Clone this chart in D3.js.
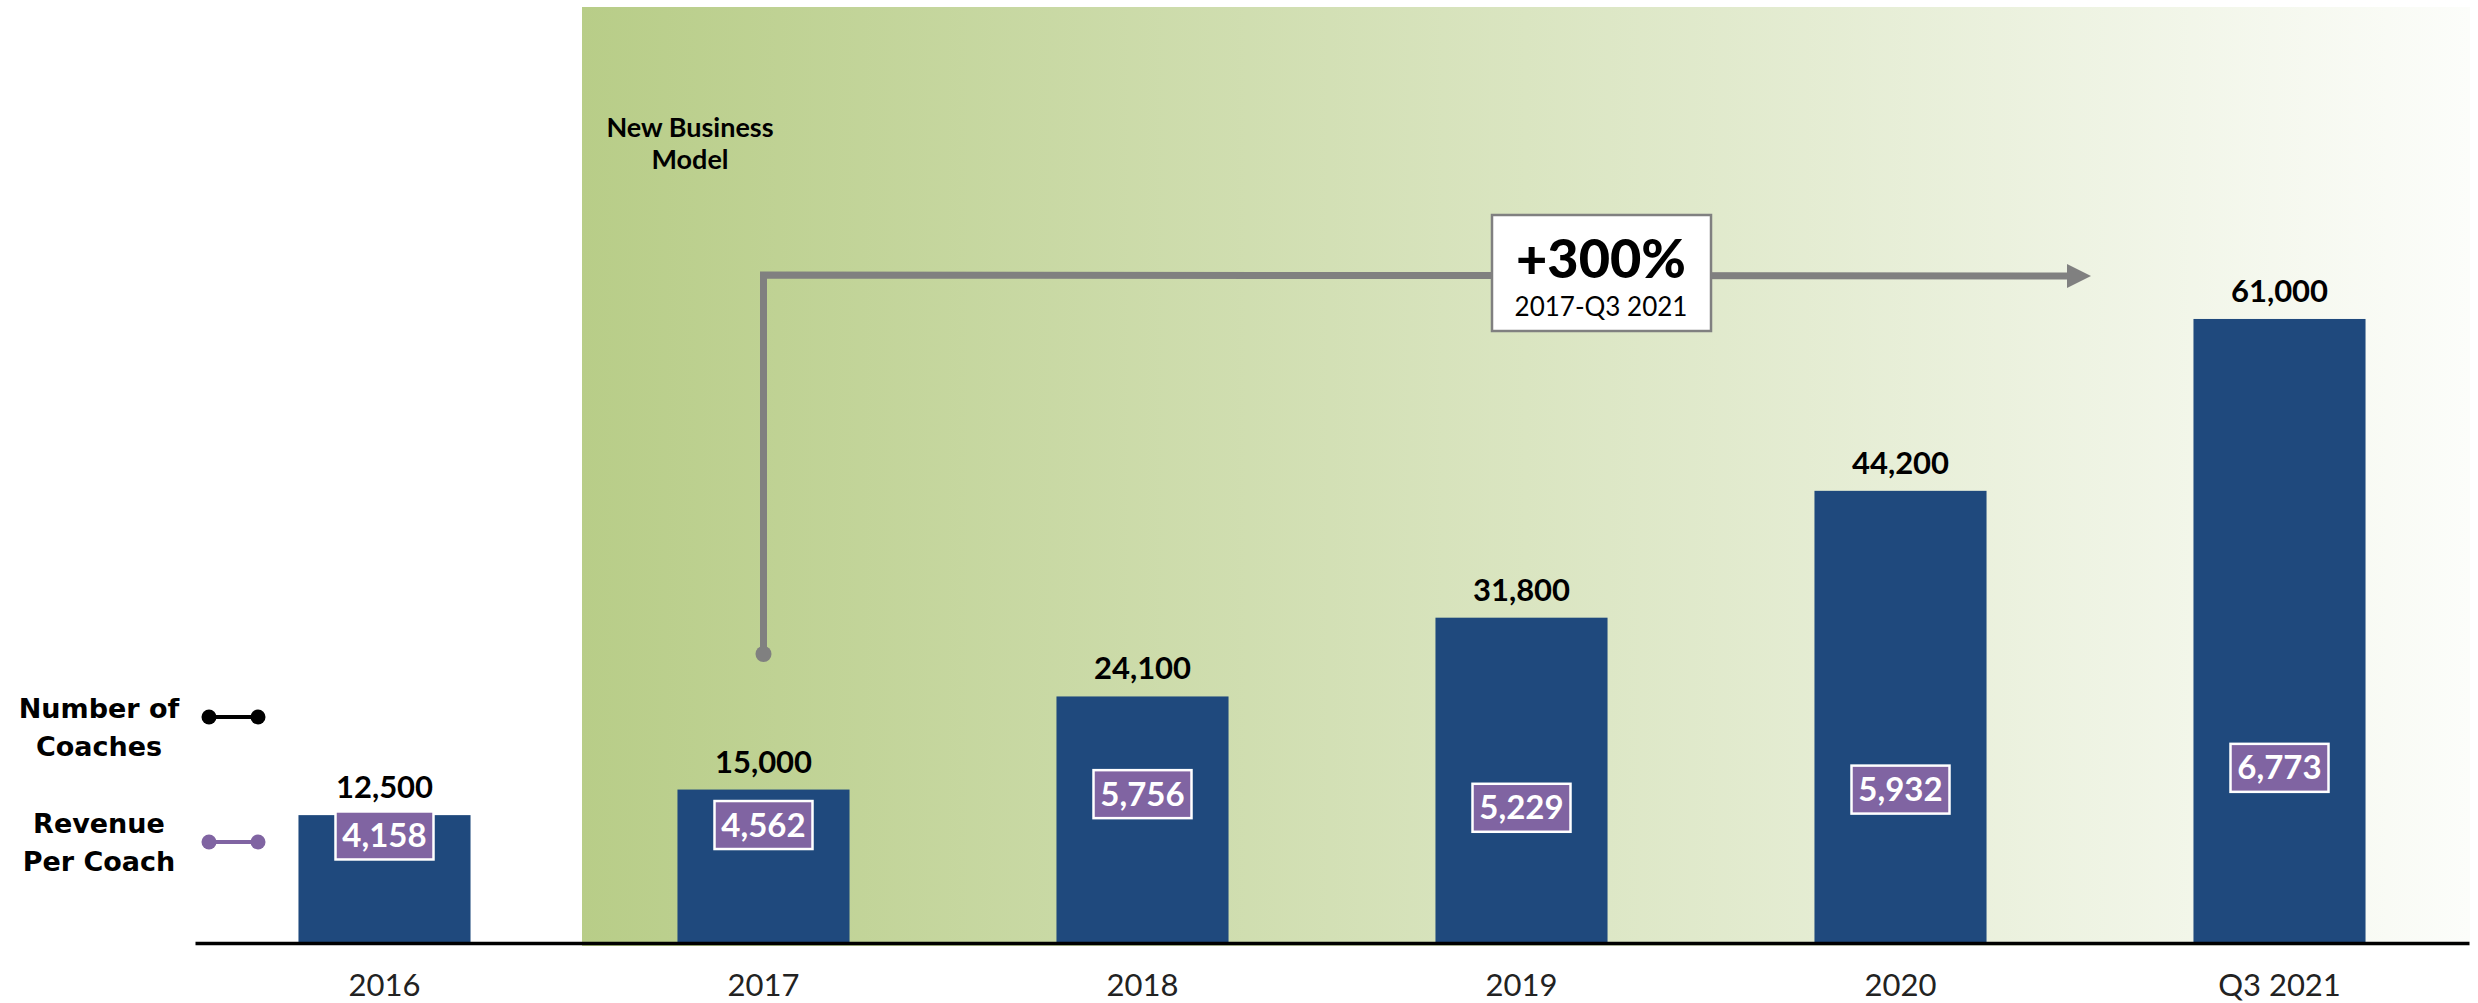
<!DOCTYPE html>
<html>
<head>
<meta charset="utf-8">
<script src="https://cdn.jsdelivr.net/npm/d3@7"></script>
<style>
  body { margin: 0; background: #fff; }
  text { font-family: Lato, "Open Sans", sans-serif; }
</style>
</head>
<body>
<div id="container"></div>
<script>
let w = 2478;
let h = 1003;

// data
let categories = ["2016", "2017", "2018", "2019", "2020", "Q3 2021"];
let coaches = [12500, 15000, 24100, 31800, 44200, 61000];
let revenuePerCoach = [4158, 4562, 5756, 5229, 5932, 6773];

let data = categories.map((c, i) => ({cat: c, coaches: coaches[i], rev: revenuePerCoach[i]}));

let baseY = 943;

let viz = d3.select("#container").append("svg")
    .attr("width", w)
    .attr("height", h)
    .style("display", "block")
;

// scales
let xScale = d3.scaleBand().domain(categories)
    .range([195, 2469])
    .paddingInner(0.546)
    .paddingOuter(0.273);
let yScale = d3.scaleLinear().domain([0, 70000]).range([baseY, baseY - 70000 * 0.01023]);
let revScale = d3.scaleLinear().domain([0, 8000]).range([baseY, baseY - 8000 * 0.02586]);

// green "new business model" background
let defs = viz.append("defs");
let grad = defs.append("linearGradient").attr("id", "greenfade")
    .attr("x1", "0%").attr("x2", "100%").attr("y1", "0%").attr("y2", "0%");
grad.append("stop").attr("offset", "0%").attr("stop-color", "#b8cd88");
grad.append("stop").attr("offset", "100%").attr("stop-color", "#fcfdfa");

let bgLeft = xScale("2017") - xScale.step() * xScale.paddingInner() / 2 + 8;
viz.append("rect")
    .attr("x", bgLeft)
    .attr("y", 7)
    .attr("width", 2470 - bgLeft)
    .attr("height", baseY + 3 - 7)
    .attr("fill", "url(#greenfade)");

viz.append("text")
    .attr("x", 690).attr("y", 137)
    .attr("text-anchor", "middle")
    .attr("font-size", 27).attr("font-weight", 700)
    .text("New Business");
viz.append("text")
    .attr("x", 690).attr("y", 169)
    .attr("text-anchor", "middle")
    .attr("font-size", 27).attr("font-weight", 700)
    .text("Model");

// bars
let barGroup = viz.append("g").attr("class", "bars");
barGroup.selectAll("rect").data(data).enter()
  .append("rect")
    .attr("x", d => xScale(d.cat))
    .attr("y", d => yScale(d.coaches))
    .attr("width", xScale.bandwidth())
    .attr("height", d => baseY - yScale(d.coaches))
    .attr("fill", "#1f497d");

let fmt = d3.format(",");
barGroup.selectAll(".vlabel").data(data).enter()
  .append("text")
    .attr("class", "vlabel")
    .attr("x", d => xScale(d.cat) + xScale.bandwidth() / 2)
    .attr("y", d => yScale(d.coaches) - 17)
    .attr("text-anchor", "middle")
    .attr("font-size", 31).attr("font-weight", 700)
    .attr("fill", "#000")
    .text(d => fmt(d.coaches));

// revenue per coach boxes
let revGroups = viz.selectAll(".rev").data(data).enter()
  .append("g")
    .attr("class", "rev")
    .attr("transform", d => "translate(" + (xScale(d.cat) + xScale.bandwidth() / 2) + "," + revScale(d.rev) + ")");
revGroups.append("rect")
    .attr("x", -49).attr("y", -24)
    .attr("width", 98).attr("height", 48)
    .attr("fill", "#8064a2")
    .attr("stroke", "#fff").attr("stroke-width", 2.5);
revGroups.append("text")
    .attr("text-anchor", "middle")
    .attr("y", 11.5)
    .attr("font-size", 33).attr("font-weight", 700)
    .attr("fill", "#fff")
    .text(d => fmt(d.rev));

// x axis
let xAxis = d3.axisBottom(xScale).tickSize(0).tickSizeOuter(0).tickPadding(31);
let xAxisGroup = viz.append("g")
    .attr("class", "xaxisgroup")
    .attr("transform", "translate(0," + baseY + ")")
    .call(xAxis);
xAxisGroup.select(".domain").attr("stroke", "#000").attr("stroke-width", 3.5);
xAxisGroup.selectAll("text")
    .style("font-family", "Lato, sans-serif")
    .attr("font-size", 31)
    .attr("fill", "#222");

// growth arrow
defs.append("marker")
    .attr("id", "arrowhead")
    .attr("viewBox", "0 0 10 10")
    .attr("refX", 0).attr("refY", 5)
    .attr("markerWidth", 24).attr("markerHeight", 24)
    .attr("markerUnits", "userSpaceOnUse")
    .attr("orient", "auto")
  .append("path")
    .attr("d", "M0,0 L10,5 L0,10 Z")
    .attr("fill", "#808080");

let arrowX0 = xScale("2017") + xScale.bandwidth() / 2;
let arrowX1 = xScale("Q3 2021") - xScale.step() * xScale.paddingInner() / 2 - 23;
viz.append("path")
    .attr("d", "M" + arrowX0 + ",654 L" + arrowX0 + ",275 L" + arrowX1 + ",276")
    .attr("fill", "none")
    .attr("stroke", "#808080")
    .attr("stroke-width", 7)
    .attr("marker-end", "url(#arrowhead)");
viz.append("circle")
    .attr("cx", arrowX0).attr("cy", 654).attr("r", 8)
    .attr("fill", "#808080");

viz.append("rect")
    .attr("x", 1492).attr("y", 215)
    .attr("width", 219).attr("height", 116)
    .attr("fill", "#fff")
    .attr("stroke", "#808080").attr("stroke-width", 2.5);
viz.append("text")
    .attr("x", 1601).attr("y", 278)
    .attr("text-anchor", "middle")
    .attr("font-size", 54).attr("font-weight", 900)
    .text("+300%");
viz.append("text")
    .attr("x", 1601).attr("y", 316)
    .attr("text-anchor", "middle")
    .attr("font-size", 26)
    .text("2017-Q3 2021");

// legend
let legendItems = [
  {lines: ["Number of", "Coaches"], y: 718, color: "#000", lineY: 717},
  {lines: ["Revenue", "Per Coach"], y: 833, color: "#8064a2", lineY: 842}
];
let legend = viz.selectAll(".legend").data(legendItems).enter()
  .append("g").attr("class", "legend");
legend.each(function(d) {
  let g = d3.select(this);
  d.lines.forEach((t, i) => {
    g.append("text")
      .attr("x", 99).attr("y", d.y + i * 38)
      .attr("text-anchor", "middle")
      .style("font-family", "'DejaVu Sans', sans-serif")
      .attr("font-size", 27).attr("font-weight", 700)
      .attr("fill", "#000")
      .text(t);
  });
  g.append("line")
    .attr("x1", 209).attr("x2", 258)
    .attr("y1", d.lineY).attr("y2", d.lineY)
    .attr("stroke", d.color).attr("stroke-width", 4);
  g.selectAll("circle").data([209, 258]).enter()
    .append("circle")
      .attr("cx", c => c).attr("cy", d.lineY).attr("r", 7.5)
      .attr("fill", d.color);
});
</script>
</body>
</html>
